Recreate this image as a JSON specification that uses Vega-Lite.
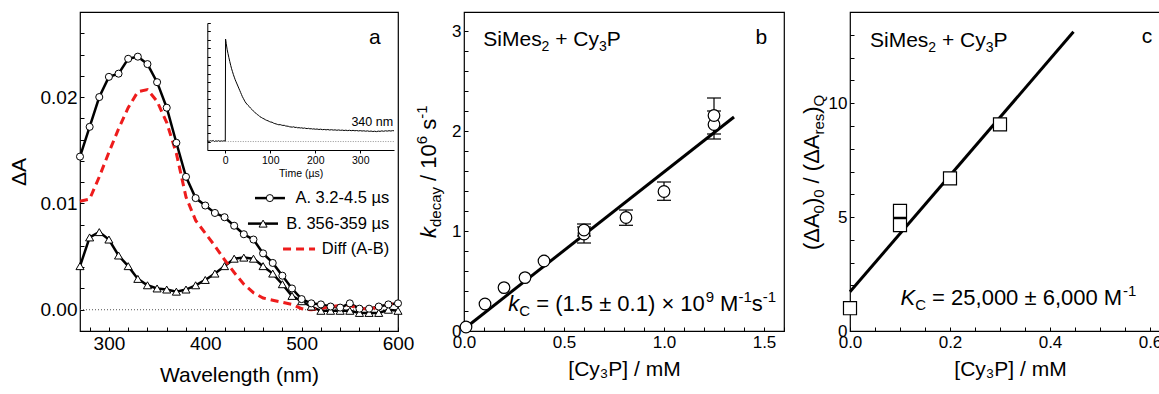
{
  "$schema": "https://vega.github.io/schema/vega-lite/v6.json",
  "autosize": {"type": "none"},
  "padding": {"left": 80, "top": 12, "right": 1079, "bottom": 382},
  "background": "white",
  "spacing": 66,
  "bounds": "flush",
  "config": {
    "view": {"stroke": "black", "strokeWidth": 1.2},
    "font": "Liberation Sans",
    "axis": {"grid": false, "domain": false, "labelFlush": false, "tickColor": "black", "labelColor": "black", "titleColor": "black", "titleFontWeight": "normal", "tickSize": -4, "tickWidth": 1, "labelPadding": 7, "labelFont": "Liberation Sans", "titleFont": "Liberation Sans"},
    "text": {"color": "black"}
  },
  "datasets": {
    "spec": [
      {"w": 270, "A": 0.0144, "B": 0.0041, "D": 0.0102},
      {"w": 280, "A": 0.0172, "B": 0.0068, "D": 0.0104},
      {"w": 290, "A": 0.0200, "B": 0.0073, "D": 0.0125},
      {"w": 300, "A": 0.0219, "B": 0.0066, "D": 0.0148},
      {"w": 310, "A": 0.0222, "B": 0.0051, "D": 0.0170},
      {"w": 320, "A": 0.0236, "B": 0.0041, "D": 0.0190},
      {"w": 330, "A": 0.0238, "B": 0.0029, "D": 0.0205},
      {"w": 340, "A": 0.0231, "B": 0.0023, "D": 0.0207},
      {"w": 350, "A": 0.0214, "B": 0.0020, "D": 0.0196},
      {"w": 360, "A": 0.0190, "B": 0.0019, "D": 0.0176},
      {"w": 370, "A": 0.0157, "B": 0.0017, "D": 0.0147},
      {"w": 380, "A": 0.0125, "B": 0.0019, "D": 0.0106},
      {"w": 390, "A": 0.0105, "B": 0.0023, "D": 0.0084},
      {"w": 400, "A": 0.0098, "B": 0.0028, "D": 0.0072},
      {"w": 410, "A": 0.0091, "B": 0.0034, "D": 0.0060},
      {"w": 420, "A": 0.0087, "B": 0.0041, "D": 0.0047},
      {"w": 430, "A": 0.0079, "B": 0.0048, "D": 0.0035},
      {"w": 440, "A": 0.0071, "B": 0.0049, "D": 0.0024},
      {"w": 450, "A": 0.0066, "B": 0.0048, "D": 0.0016},
      {"w": 460, "A": 0.0053, "B": 0.0041, "D": 0.0011},
      {"w": 470, "A": 0.0044, "B": 0.0034, "D": 0.0009},
      {"w": 480, "A": 0.0032, "B": 0.0024, "D": 0.0007},
      {"w": 490, "A": 0.0020, "B": 0.0013, "D": 0.0005},
      {"w": 500, "A": 0.0010, "B": 0.0008, "D": 0.0001},
      {"w": 510, "A": 0.0006, "B": 0.0003, "D": 0.0000},
      {"w": 520, "A": 0.0005, "B": -0.0001, "D": 0.0001},
      {"w": 530, "A": 0.0003, "B": -0.0001, "D": 0.0003},
      {"w": 540, "A": 0.0002, "B": -0.0001, "D": 0.0004},
      {"w": 550, "A": 0.0006, "B": -0.0001, "D": 0.0004},
      {"w": 560, "A": 0.0001, "B": -0.0003, "D": 0.0001},
      {"w": 570, "A": 0.0001, "B": -0.0003, "D": 0.0001},
      {"w": 580, "A": 0.0003, "B": -0.0003, "D": 0.0002},
      {"w": 590, "A": 0.0005, "B": 0.0000, "D": 0.0005},
      {"w": 600, "A": 0.0006, "B": -0.0001, "D": 0.0007}
    ],
    "zeroA": [{"w": 270, "w2": 600, "v": 0}],
    "legLines": [
      {"w": 451.6, "w2": 482.7, "v": 0.0105, "s": "A"},
      {"w": 444.3, "w2": 475.5, "v": 0.0081, "s": "B"},
      {"w": 480.7, "w2": 513.9, "v": 0.0057, "s": "D"}
    ],
    "legPts": [
      {"w": 467, "v": 0.0105, "s": "A"},
      {"w": 460, "v": 0.0081, "s": "B"}
    ],
    "legTxt": [
      {"w": 591, "v": 0.0105, "t": "A. 3.2-4.5 µs"},
      {"w": 591, "v": 0.0081, "t": "B. 356-359 µs"},
      {"w": 591, "v": 0.0057, "t": "Diff (A-B)"}
    ],
    "panelA": [{"w": 576, "v": 0.025, "t": "a"}],
    "trace": [
      {"t": -40, "v": 0.08}, {"t": -36, "v": 0.02}, {"t": -33, "v": 0.1}, {"t": -30, "v": 0.05}, {"t": -27, "v": 0.12}, {"t": -24, "v": 0.0}, {"t": -21, "v": 0.08}, {"t": -18, "v": 0.03}, {"t": -15, "v": 0.1}, {"t": -12, "v": 0.02}, {"t": -9, "v": 0.08}, {"t": -6, "v": 0.04}, {"t": -3, "v": 0.09}, {"t": 0, "v": 0.05},
      {"t": 0.6, "v": 12.1}, {"t": 2, "v": 11.6}, {"t": 4, "v": 10.9}, {"t": 6, "v": 10.4}, {"t": 8, "v": 9.9}, {"t": 10, "v": 9.45}, {"t": 12, "v": 9.0}, {"t": 14, "v": 8.6}, {"t": 16, "v": 8.25}, {"t": 18, "v": 7.9}, {"t": 20, "v": 7.6}, {"t": 22, "v": 7.3}, {"t": 24, "v": 7.05}, {"t": 26, "v": 6.8}, {"t": 28, "v": 6.55}, {"t": 30, "v": 6.3}, {"t": 32, "v": 6.05}, {"t": 34, "v": 5.8}, {"t": 36, "v": 5.55}, {"t": 38, "v": 5.3}, {"t": 40, "v": 5.1}, {"t": 42, "v": 4.9}, {"t": 44, "v": 4.7}, {"t": 46, "v": 4.55}, {"t": 48, "v": 4.42}, {"t": 50, "v": 4.3},
      {"t": 53, "v": 4.15}, {"t": 56, "v": 3.95}, {"t": 59, "v": 3.8}, {"t": 62, "v": 3.62}, {"t": 65, "v": 3.47}, {"t": 68, "v": 3.35}, {"t": 71, "v": 3.18}, {"t": 74, "v": 3.1}, {"t": 77, "v": 2.93}, {"t": 80, "v": 2.85}, {"t": 83, "v": 2.75}, {"t": 86, "v": 2.68}, {"t": 89, "v": 2.58}, {"t": 92, "v": 2.5}, {"t": 95, "v": 2.45}, {"t": 98, "v": 2.36}, {"t": 101, "v": 2.3}, {"t": 104, "v": 2.28}, {"t": 107, "v": 2.18}, {"t": 110, "v": 2.12}, {"t": 113, "v": 2.08}, {"t": 116, "v": 2.02}, {"t": 119, "v": 1.98}, {"t": 122, "v": 2.0}, {"t": 125, "v": 1.94}, {"t": 128, "v": 1.9}, {"t": 131, "v": 1.92}, {"t": 134, "v": 1.84}, {"t": 137, "v": 1.82}, {"t": 140, "v": 1.8}, {"t": 143, "v": 1.74}, {"t": 146, "v": 1.72}, {"t": 149, "v": 1.7}, {"t": 152, "v": 1.74}, {"t": 155, "v": 1.66}, {"t": 158, "v": 1.68}, {"t": 161, "v": 1.62}, {"t": 164, "v": 1.64}, {"t": 167, "v": 1.6}, {"t": 170, "v": 1.62}, {"t": 173, "v": 1.56}, {"t": 176, "v": 1.6}, {"t": 179, "v": 1.55}, {"t": 182, "v": 1.53}, {"t": 185, "v": 1.56}, {"t": 188, "v": 1.5}, {"t": 191, "v": 1.52}, {"t": 194, "v": 1.47}, {"t": 197, "v": 1.5}, {"t": 200, "v": 1.45},
      {"t": 204, "v": 1.48}, {"t": 208, "v": 1.42}, {"t": 212, "v": 1.46}, {"t": 216, "v": 1.4}, {"t": 220, "v": 1.43}, {"t": 224, "v": 1.38}, {"t": 228, "v": 1.42}, {"t": 232, "v": 1.36}, {"t": 236, "v": 1.4}, {"t": 240, "v": 1.35}, {"t": 244, "v": 1.38}, {"t": 248, "v": 1.33}, {"t": 252, "v": 1.37}, {"t": 256, "v": 1.32}, {"t": 260, "v": 1.35}, {"t": 264, "v": 1.3}, {"t": 268, "v": 1.34}, {"t": 272, "v": 1.29}, {"t": 276, "v": 1.33}, {"t": 280, "v": 1.28}, {"t": 284, "v": 1.32}, {"t": 288, "v": 1.27}, {"t": 292, "v": 1.3}, {"t": 296, "v": 1.25}, {"t": 300, "v": 1.29}, {"t": 304, "v": 1.24}, {"t": 308, "v": 1.27}, {"t": 312, "v": 1.22}, {"t": 316, "v": 1.26}, {"t": 320, "v": 1.2}, {"t": 324, "v": 1.24}, {"t": 328, "v": 1.18}, {"t": 332, "v": 1.22}, {"t": 336, "v": 1.17}, {"t": 340, "v": 1.23}, {"t": 344, "v": 1.2}, {"t": 348, "v": 1.26}, {"t": 352, "v": 1.21}, {"t": 356, "v": 1.27}, {"t": 360, "v": 1.23}, {"t": 364, "v": 1.28}, {"t": 368, "v": 1.24}, {"t": 372, "v": 1.29}, {"t": 375, "v": 1.27}
    ],
    "insetZero": [{"t": 0, "t2": 375, "v": 0}],
    "insetTxt": [{"t": 373, "v": 2.35, "txt": "340 nm"}],
    "bPts": [
      {"x": 0.01, "y": 0.04}, {"x": 0.105, "y": 0.27}, {"x": 0.2, "y": 0.434}, {"x": 0.305, "y": 0.534}, {"x": 0.4, "y": 0.7},
      {"x": 0.6, "y": 0.97}, {"x": 0.6, "y": 1.01}, {"x": 0.81, "y": 1.135}, {"x": 1.0, "y": 1.395}, {"x": 1.25, "y": 2.065}, {"x": 1.25, "y": 2.155}
    ],
    "bErr": [
      {"x": 0.6, "y": 0.88, "y2": 1.04}, {"x": 0.6, "y": 0.95, "y2": 1.07}, {"x": 0.81, "y": 1.057, "y2": 1.21}, {"x": 1.0, "y": 1.307, "y2": 1.49}, {"x": 1.25, "y": 1.92, "y2": 2.2}, {"x": 1.25, "y": 1.97, "y2": 2.33}
    ],
    "bFit": [{"x": 0, "y": 0.02}, {"x": 1.35, "y": 2.14}],
    "bKc": [{"x": 0.2215, "y": 0.2}],
    "bSi": [{"x": 0.0965, "y": 2.85}],
    "bLab": [{"x": 1.487, "y": 2.867, "t": "b"}],
    "bYt": [{"x": -0.1385, "y": 0.93}],
    "cPts": [{"x": 0, "y": 1.0}, {"x": 0.1, "y": 5.27}, {"x": 0.1, "y": 4.65}, {"x": 0.2, "y": 6.7}, {"x": 0.3, "y": 9.07}],
    "cFit": [{"x": 0, "y": 1.72}, {"x": 0.447, "y": 13.13}],
    "cKc": [{"x": 0.101, "y": 1.14}],
    "cSi": [{"x": 0.04, "y": 12.47}],
    "cLab": [{"x": 0.594, "y": 12.62, "t": "c"}],
    "cYt": [{"x": -0.063, "y": 3.55}]
  },
  "hconcat": [
    {
      "width": 318,
      "height": 319,
      "resolve": {"scale": {"x": "independent", "y": "independent"}, "axis": {"x": "independent", "y": "independent"}},
      "layer": [
        {
          "encoding": {
            "x": {"field": "w", "type": "quantitative", "scale": {"domain": [270, 600], "nice": false, "zero": false}, "title": "Wavelength (nm)",
              "axis": {"values": [280, 300, 320, 340, 360, 380, 400, 420, 440, 460, 480, 500, 520, 540, 560, 580, 600], "format": "d", "labelExpr": "datum.value % 100 === 0 ? datum.label : ''", "labelFontSize": 19, "titleFontSize": 21, "titlePadding": 11}},
            "y": {"field": "v", "type": "quantitative", "scale": {"domain": [-0.002, 0.028], "nice": false, "zero": false}, "title": "ΔA",
              "axis": {"values": [-0.002, 0, 0.002, 0.004, 0.006, 0.008, 0.01, 0.012, 0.014, 0.016, 0.018, 0.02, 0.022, 0.024, 0.026, 0.028], "format": ".2f", "labelExpr": "abs(round(datum.value*1000)) % 10 === 0 ? datum.label : ''", "labelFontSize": 19, "titleFontSize": 21, "titlePadding": 11}}
          },
          "layer": [
            {"data": {"name": "zeroA"}, "mark": {"type": "rule", "strokeDash": [1, 2], "color": "#555555", "strokeWidth": 1}, "encoding": {"x2": {"field": "w2"}}},
            {"data": {"name": "spec"}, "transform": [{"fold": ["B"], "as": ["s", "v"]}], "mark": {"type": "line", "color": "black", "strokeWidth": 2.5}},
            {"data": {"name": "spec"}, "transform": [{"fold": ["A"], "as": ["s", "v"]}], "mark": {"type": "line", "color": "black", "strokeWidth": 2.5}},
            {"data": {"name": "spec"}, "transform": [{"fold": ["D"], "as": ["s", "v"]}], "mark": {"type": "line", "color": "#ee1c1c", "strokeWidth": 3, "strokeDash": [8, 5]}},
            {"data": {"name": "spec"}, "transform": [{"fold": ["B"], "as": ["s", "v"]}], "mark": {"type": "point", "shape": "triangle-up", "filled": true, "fill": "white", "stroke": "black", "strokeWidth": 1, "size": 65, "opacity": 1}},
            {"data": {"name": "spec"}, "transform": [{"fold": ["A"], "as": ["s", "v"]}], "mark": {"type": "point", "shape": "circle", "filled": true, "fill": "white", "stroke": "black", "strokeWidth": 1, "size": 50, "opacity": 1}},
            {"data": {"name": "legLines"}, "transform": [{"filter": "datum.s !== 'D'"}], "mark": {"type": "rule", "color": "black", "strokeWidth": 2.5}, "encoding": {"x2": {"field": "w2"}}},
            {"data": {"name": "legLines"}, "transform": [{"filter": "datum.s === 'D'"}], "mark": {"type": "rule", "color": "#ee1c1c", "strokeWidth": 3, "strokeDash": [8, 5]}, "encoding": {"x2": {"field": "w2"}}},
            {"data": {"name": "legPts"}, "transform": [{"filter": "datum.s === 'A'"}], "mark": {"type": "point", "shape": "circle", "filled": true, "fill": "white", "stroke": "black", "strokeWidth": 1, "size": 50, "opacity": 1}},
            {"data": {"name": "legPts"}, "transform": [{"filter": "datum.s === 'B'"}], "mark": {"type": "point", "shape": "triangle-up", "filled": true, "fill": "white", "stroke": "black", "strokeWidth": 1, "size": 65, "opacity": 1}},
            {"data": {"name": "legTxt"}, "mark": {"type": "text", "align": "right", "baseline": "middle", "fontSize": 16.5}, "encoding": {"text": {"field": "t"}}},
            {"data": {"name": "panelA"}, "mark": {"type": "text", "align": "center", "baseline": "alphabetic", "fontSize": 21}, "encoding": {"text": {"field": "t"}}}
          ]
        },
        {
          "encoding": {
            "x": {"field": "t", "type": "quantitative", "scale": {"domain": [-40, 375], "range": [127.3, 314], "nice": false, "zero": false}, "title": "Time (µs)",
              "axis": {"orient": "bottom", "offset": -181, "domain": true, "domainColor": "black", "domainWidth": 1, "values": [0, 100, 200, 300], "format": "d", "labelFontSize": 10.5, "titleFontSize": 10.5, "tickSize": 3, "labelPadding": 2, "titlePadding": 3}},
            "y": {"field": "v", "type": "quantitative", "scale": {"domain": [-1, 14], "range": [138, 11], "nice": false, "zero": false}, "title": null,
              "axis": {"orient": "left", "offset": -127.3, "domain": true, "domainColor": "black", "domainWidth": 1, "labels": false, "values": [-1, 0, 1, 2, 3, 4, 5, 6, 7, 8, 9, 10, 11, 12, 13, 14], "tickSize": -3}}
          },
          "layer": [
            {"data": {"name": "insetZero"}, "mark": {"type": "rule", "strokeDash": [1, 1.5], "color": "#777777", "strokeWidth": 0.8}, "encoding": {"x2": {"field": "t2"}}},
            {"data": {"name": "trace"}, "mark": {"type": "line", "color": "black", "strokeWidth": 1}},
            {"data": {"name": "insetTxt"}, "mark": {"type": "text", "align": "right", "baseline": "middle", "fontSize": 12.5}, "encoding": {"text": {"field": "txt"}}}
          ]
        }
      ]
    },
    {
      "width": 320,
      "height": 319,
      "encoding": {
        "x": {"field": "x", "type": "quantitative", "scale": {"domain": [0, 1.6], "nice": false, "zero": false}, "title": "[Cy₃P] / mM",
          "axis": {"values": [0, 0.1, 0.2, 0.3, 0.4, 0.5, 0.6, 0.7, 0.8, 0.9, 1.0, 1.1, 1.2, 1.3, 1.4, 1.5, 1.6], "format": ".1f", "labelExpr": "abs(round(datum.value*10)) % 5 === 0 ? datum.label : ''", "labelFontSize": 17, "titleFontSize": 21, "titlePadding": 8}},
        "y": {"field": "y", "type": "quantitative", "scale": {"domain": [0, 3.19], "nice": false, "zero": false}, "title": null,
          "axis": {"values": [0, 0.2, 0.4, 0.6, 0.8, 1.0, 1.2, 1.4, 1.6, 1.8, 2.0, 2.2, 2.4, 2.6, 2.8, 3.0], "format": ".0f", "labelExpr": "abs(round(datum.value*10)) % 10 === 0 ? datum.label : ''", "labelFontSize": 17}}
      },
      "layer": [
        {"data": {"name": "bFit"}, "mark": {"type": "line", "color": "black", "strokeWidth": 3}},
        {"data": {"name": "bErr"}, "mark": {"type": "rule", "color": "black", "strokeWidth": 1.2}, "encoding": {"y2": {"field": "y2"}}},
        {"data": {"name": "bErr"}, "mark": {"type": "tick", "orient": "horizontal", "size": 14, "thickness": 1.2, "color": "black", "opacity": 1}},
        {"data": {"name": "bErr"}, "mark": {"type": "tick", "orient": "horizontal", "size": 14, "thickness": 1.2, "color": "black", "opacity": 1},
          "encoding": {"y": {"field": "y2", "type": "quantitative", "scale": {"domain": [0, 3.19], "nice": false, "zero": false}, "title": null,
            "axis": {"values": [0, 0.2, 0.4, 0.6, 0.8, 1.0, 1.2, 1.4, 1.6, 1.8, 2.0, 2.2, 2.4, 2.6, 2.8, 3.0], "format": ".0f", "labelExpr": "abs(round(datum.value*10)) % 10 === 0 ? datum.label : ''", "labelFontSize": 17}}}},
        {"data": {"name": "bPts"}, "mark": {"type": "point", "shape": "circle", "filled": true, "fill": "white", "stroke": "black", "strokeWidth": 1.2, "size": 135, "opacity": 1}},
        {"data": {"name": "bSi"}, "mark": {"type": "text", "text": "SiMes", "align": "left", "baseline": "alphabetic", "fontSize": 21, "dx": 0}},
        {"data": {"name": "bSi"}, "mark": {"type": "text", "text": "2", "align": "left", "baseline": "alphabetic", "fontSize": 14, "dx": 58.3, "dy": 5}},
        {"data": {"name": "bSi"}, "mark": {"type": "text", "text": "+ Cy", "align": "left", "baseline": "alphabetic", "fontSize": 21, "dx": 71.9}},
        {"data": {"name": "bSi"}, "mark": {"type": "text", "text": "3", "align": "left", "baseline": "alphabetic", "fontSize": 14, "dx": 115.7, "dy": 5}},
        {"data": {"name": "bSi"}, "mark": {"type": "text", "text": "P", "align": "left", "baseline": "alphabetic", "fontSize": 21, "dx": 123.5}},
        {"data": {"name": "bLab"}, "mark": {"type": "text", "align": "center", "baseline": "alphabetic", "fontSize": 21}, "encoding": {"text": {"field": "t"}}},
        {"data": {"name": "bKc"}, "mark": {"type": "text", "text": "k", "align": "left", "baseline": "alphabetic", "fontSize": 22, "fontStyle": "italic", "dx": 0}},
        {"data": {"name": "bKc"}, "mark": {"type": "text", "text": "C", "align": "left", "baseline": "alphabetic", "fontSize": 15, "dx": 11, "dy": 5}},
        {"data": {"name": "bKc"}, "mark": {"type": "text", "text": "= (1.5 ± 0.1) × 10", "align": "left", "baseline": "alphabetic", "fontSize": 22, "dx": 27.9}},
        {"data": {"name": "bKc"}, "mark": {"type": "text", "text": "9", "align": "left", "baseline": "alphabetic", "fontSize": 15, "dx": 197.4, "dy": -9}},
        {"data": {"name": "bKc"}, "mark": {"type": "text", "text": "M", "align": "left", "baseline": "alphabetic", "fontSize": 22, "dx": 211.8}},
        {"data": {"name": "bKc"}, "mark": {"type": "text", "text": "-1", "align": "left", "baseline": "alphabetic", "fontSize": 15, "dx": 230.1, "dy": -9}},
        {"data": {"name": "bKc"}, "mark": {"type": "text", "text": "s", "align": "left", "baseline": "alphabetic", "fontSize": 22, "dx": 243.5}},
        {"data": {"name": "bKc"}, "mark": {"type": "text", "text": "-1", "align": "left", "baseline": "alphabetic", "fontSize": 15, "dx": 254.5, "dy": -9}},
        {"data": {"name": "bYt"}, "mark": {"type": "text", "text": "k", "angle": 270, "align": "left", "baseline": "alphabetic", "fontSize": 22, "fontStyle": "italic", "dx": 0}},
        {"data": {"name": "bYt"}, "mark": {"type": "text", "text": "decay", "angle": 270, "align": "left", "baseline": "alphabetic", "fontSize": 15, "dx": 11, "dy": 5}},
        {"data": {"name": "bYt"}, "mark": {"type": "text", "text": "/ 10", "angle": 270, "align": "left", "baseline": "alphabetic", "fontSize": 22, "dx": 57.1}},
        {"data": {"name": "bYt"}, "mark": {"type": "text", "text": "6", "angle": 270, "align": "left", "baseline": "alphabetic", "fontSize": 15, "dx": 93.8, "dy": -9}},
        {"data": {"name": "bYt"}, "mark": {"type": "text", "text": "s", "angle": 270, "align": "left", "baseline": "alphabetic", "fontSize": 22, "dx": 108.2}},
        {"data": {"name": "bYt"}, "mark": {"type": "text", "text": "-1", "angle": 270, "align": "left", "baseline": "alphabetic", "fontSize": 15, "dx": 119.2, "dy": -9}}
      ]
    },
    {
      "width": 320,
      "height": 319,
      "encoding": {
        "x": {"field": "x", "type": "quantitative", "scale": {"domain": [0, 0.64], "nice": false, "zero": false}, "title": "[Cy₃P] / mM",
          "axis": {"values": [0, 0.05, 0.1, 0.15, 0.2, 0.25, 0.3, 0.35, 0.4, 0.45, 0.5, 0.55, 0.6], "format": ".1f", "labelExpr": "abs(round(datum.value*100)) % 20 === 0 ? datum.label : ''", "labelFontSize": 17, "titleFontSize": 21, "titlePadding": 8}},
        "y": {"field": "y", "type": "quantitative", "scale": {"domain": [0, 14], "nice": false, "zero": false}, "title": null,
          "axis": {"values": [0, 1, 2, 3, 4, 5, 6, 7, 8, 9, 10, 11, 12, 13, 14], "format": "d", "labelExpr": "datum.value % 5 === 0 ? datum.label : ''", "labelFontSize": 17}}
      },
      "layer": [
        {"data": {"name": "cFit"}, "mark": {"type": "line", "color": "black", "strokeWidth": 3}},
        {"data": {"name": "cPts"}, "mark": {"type": "point", "shape": "square", "filled": true, "fill": "white", "stroke": "black", "strokeWidth": 1.2, "size": 170, "opacity": 1}},
        {"data": {"name": "cSi"}, "mark": {"type": "text", "text": "SiMes", "align": "left", "baseline": "alphabetic", "fontSize": 21, "dx": 0}},
        {"data": {"name": "cSi"}, "mark": {"type": "text", "text": "2", "align": "left", "baseline": "alphabetic", "fontSize": 14, "dx": 58.3, "dy": 5}},
        {"data": {"name": "cSi"}, "mark": {"type": "text", "text": "+ Cy", "align": "left", "baseline": "alphabetic", "fontSize": 21, "dx": 71.9}},
        {"data": {"name": "cSi"}, "mark": {"type": "text", "text": "3", "align": "left", "baseline": "alphabetic", "fontSize": 14, "dx": 115.7, "dy": 5}},
        {"data": {"name": "cSi"}, "mark": {"type": "text", "text": "P", "align": "left", "baseline": "alphabetic", "fontSize": 21, "dx": 123.5}},
        {"data": {"name": "cLab"}, "mark": {"type": "text", "align": "center", "baseline": "alphabetic", "fontSize": 21}, "encoding": {"text": {"field": "t"}}},
        {"data": {"name": "cKc"}, "mark": {"type": "text", "text": "K", "align": "left", "baseline": "alphabetic", "fontSize": 22, "fontStyle": "italic", "dx": 0}},
        {"data": {"name": "cKc"}, "mark": {"type": "text", "text": "C", "align": "left", "baseline": "alphabetic", "fontSize": 15, "dx": 14.7, "dy": 5}},
        {"data": {"name": "cKc"}, "mark": {"type": "text", "text": "= 25,000 ± 6,000 M", "align": "left", "baseline": "alphabetic", "fontSize": 22, "dx": 31.6}},
        {"data": {"name": "cKc"}, "mark": {"type": "text", "text": "-1", "align": "left", "baseline": "alphabetic", "fontSize": 15, "dx": 222.4, "dy": -9}},
        {"data": {"name": "cYt"}, "mark": {"type": "text", "text": "(ΔA", "angle": 270, "align": "left", "baseline": "alphabetic", "fontSize": 22, "dx": 0}},
        {"data": {"name": "cYt"}, "mark": {"type": "text", "text": "0", "angle": 270, "align": "left", "baseline": "alphabetic", "fontSize": 15, "dx": 36.7, "dy": 5}},
        {"data": {"name": "cYt"}, "mark": {"type": "text", "text": ")", "angle": 270, "align": "left", "baseline": "alphabetic", "fontSize": 22, "dx": 45}},
        {"data": {"name": "cYt"}, "mark": {"type": "text", "text": "0", "angle": 270, "align": "left", "baseline": "alphabetic", "fontSize": 15, "dx": 52.3, "dy": 5}},
        {"data": {"name": "cYt"}, "mark": {"type": "text", "text": "/ (ΔA", "angle": 270, "align": "left", "baseline": "alphabetic", "fontSize": 22, "dx": 66.7}},
        {"data": {"name": "cYt"}, "mark": {"type": "text", "text": "res", "angle": 270, "align": "left", "baseline": "alphabetic", "fontSize": 15, "dx": 115.6, "dy": 5}},
        {"data": {"name": "cYt"}, "mark": {"type": "text", "text": ")", "angle": 270, "align": "left", "baseline": "alphabetic", "fontSize": 22, "dx": 136.4}},
        {"data": {"name": "cYt"}, "mark": {"type": "text", "text": "Q", "angle": 270, "align": "left", "baseline": "alphabetic", "fontSize": 15, "dx": 143.7, "dy": 5}}
      ]
    }
  ]
}
